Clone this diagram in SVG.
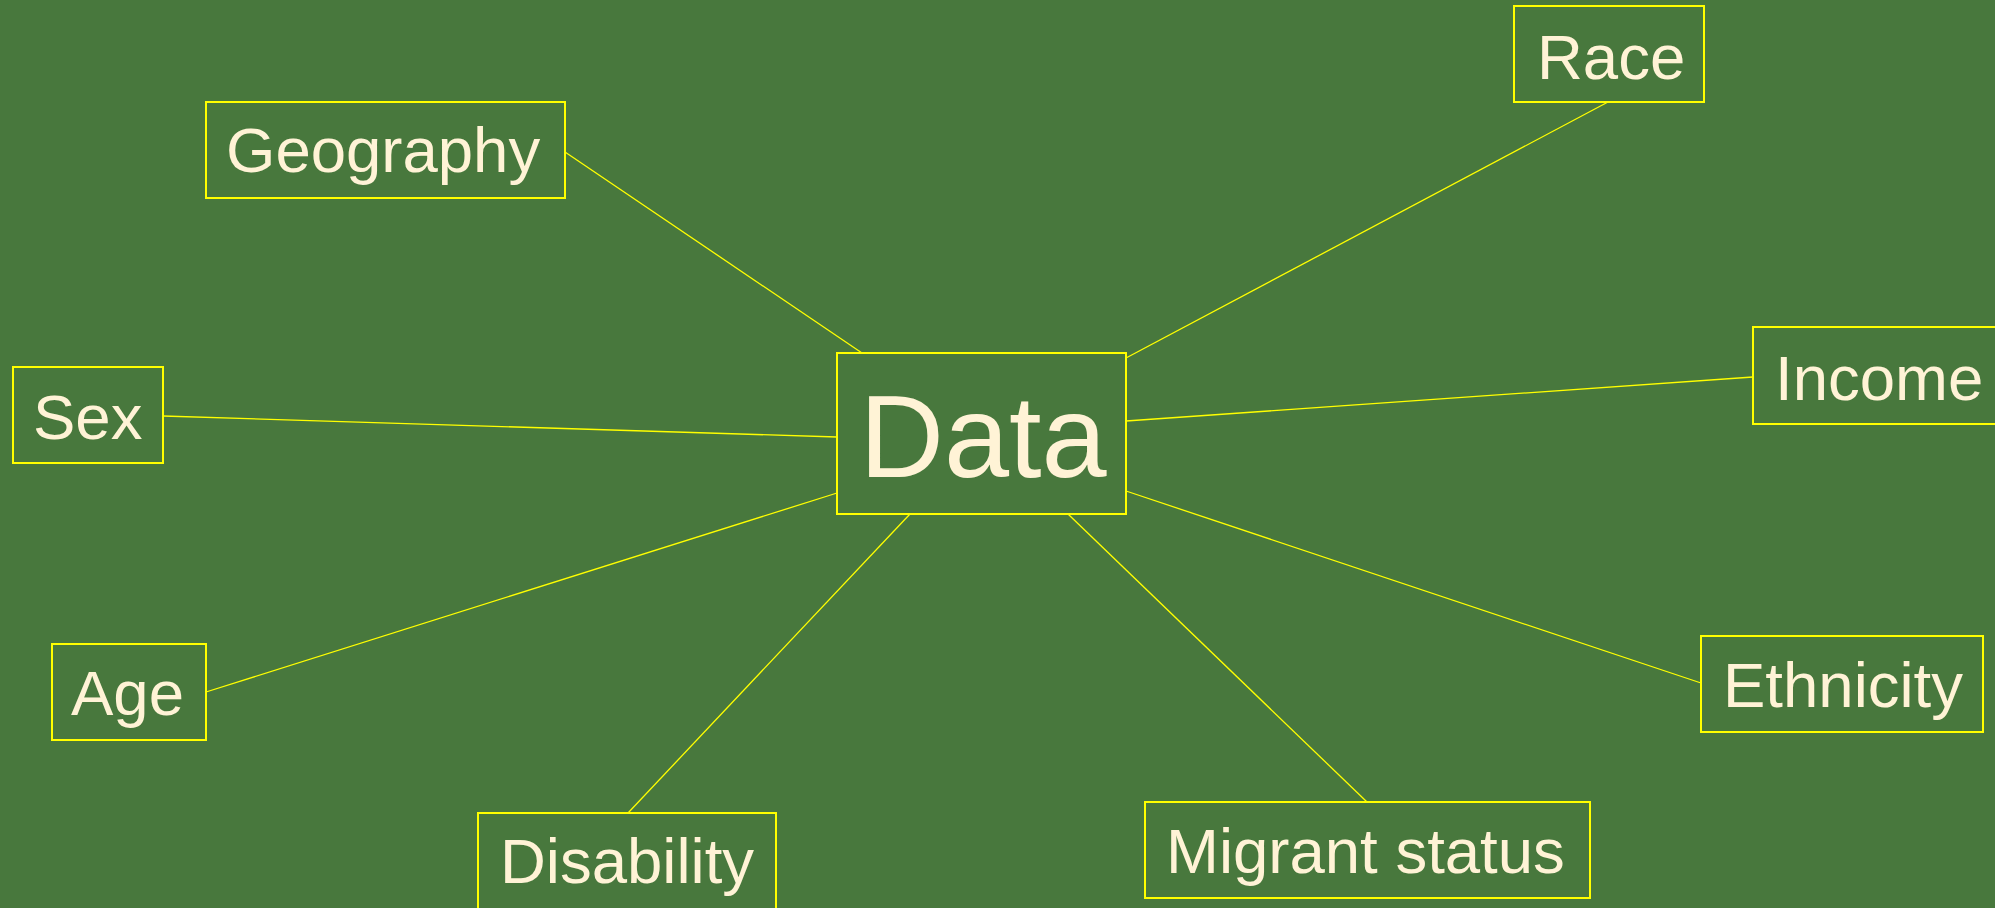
<svg xmlns="http://www.w3.org/2000/svg" width="1995" height="908" viewBox="0 0 1995 908">
<style>
.box{fill:#48783D;stroke:#FFFF00;stroke-width:2}
.lbl{font-family:"Liberation Sans",Arial,sans-serif;font-size:63.5px;fill:#FFF3D6}
.big{font-family:"Liberation Sans",Arial,sans-serif;font-size:117px;fill:#FFF3D6}
.conn line{stroke:#FFFF00;stroke-width:1.3}
</style>
<rect x="0" y="0" width="1995" height="908" fill="#48783D"/>
<g class="conn" id="connectors">
<line x1="565" y1="152" x2="862" y2="353"/>
<line x1="1608" y1="102" x2="1126" y2="358"/>
<line x1="1126" y1="421" x2="1753" y2="377"/>
<line x1="1126" y1="491" x2="1701" y2="683"/>
<line x1="1068" y1="514" x2="1367" y2="802"/>
<line x1="910" y1="514" x2="628" y2="813"/>
<line x1="837" y1="493" x2="206" y2="692"/>
<line x1="837" y1="437" x2="163" y2="416"/>
</g>
<g id="data"><rect class="box" x="837" y="353" width="289" height="161"/><text class="big" x="983" y="477" text-anchor="middle">Data</text></g>
<g id="geography"><rect class="box" x="206" y="102" width="359" height="96"/><text class="lbl" x="226" y="172">Geography</text></g>
<g id="race"><rect class="box" x="1514" y="6" width="190" height="96"/><text class="lbl" x="1537" y="79">Race</text></g>
<g id="income"><rect class="box" x="1753" y="327" width="250" height="97"/><text class="lbl" x="1775" y="400">Income</text></g>
<g id="sex"><rect class="box" x="13" y="367" width="150" height="96"/><text class="lbl" x="33" y="439">Sex</text></g>
<g id="age"><rect class="box" x="52" y="644" width="154" height="96"/><text class="lbl" x="71" y="715">Age</text></g>
<g id="disability"><rect class="box" x="478" y="813" width="298" height="110"/><text class="lbl" x="500" y="883">Disability</text></g>
<g id="migrant"><rect class="box" x="1145" y="802" width="445" height="96"/><text class="lbl" x="1166" y="873">Migrant status</text></g>
<g id="ethnicity"><rect class="box" x="1701" y="636" width="282" height="96"/><text class="lbl" x="1723" y="707">Ethnicity</text></g>
</svg>
